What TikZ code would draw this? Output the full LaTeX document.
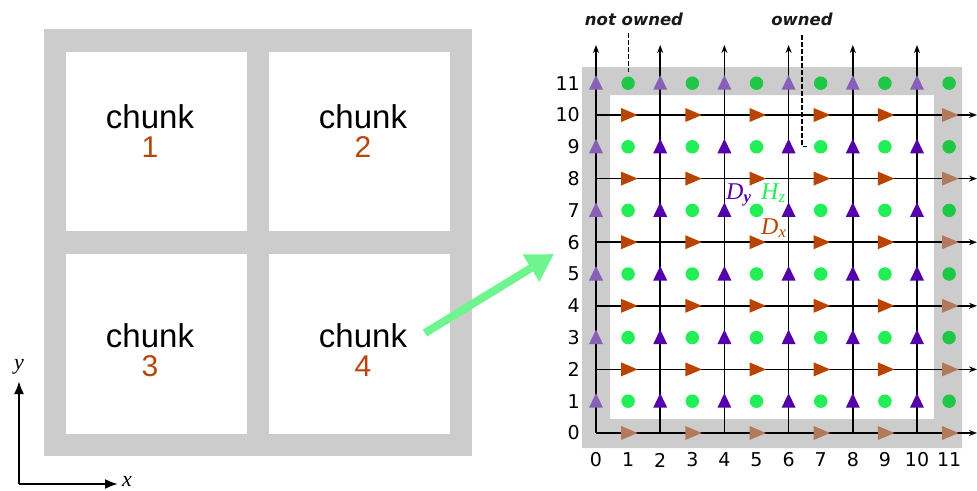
\documentclass[tikz,border=0pt]{standalone}
\usepackage{fontspec}
\setmainfont{Liberation Serif}
\setsansfont{Liberation Sans}
\newfontfamily\dejavu{DejaVu Sans}
\usetikzlibrary{arrows.meta,calc}
\definecolor{band}{HTML}{CCCCCC}
\definecolor{hz}{HTML}{22EE55}
\definecolor{hzf}{HTML}{1EC846}
\definecolor{dy}{HTML}{5500AA}
\definecolor{dyf}{HTML}{8860B8}
\definecolor{dx}{HTML}{B84400}
\definecolor{dxf}{HTML}{B4785A}
\definecolor{numc}{HTML}{B8460C}
\definecolor{garrow}{HTML}{6EF590}
\begin{document}
\begin{tikzpicture}[x=1pt,y=-1pt,
  chunktxt/.style={font=\sffamily\fontsize{33}{33}\selectfont,anchor=base,inner sep=0},
  chunknum/.style={font=\sffamily\fontsize{30}{30}\selectfont,text=numc,anchor=base,inner sep=0},
  axis/.style={line width=2.2pt,-{Latex[length=13pt,width=10pt]}},
  axlbl/.style={font=\itshape\fontsize{22}{22}\selectfont,anchor=base,inner sep=0},
  gline/.style={line width=1.5pt,-{Stealth[length=8pt,width=6pt]}},
  numlbl/.style={font=\dejavu\fontsize{19}{19}\selectfont,inner sep=0},
  ownlbl/.style={font=\dejavu\bfseries\itshape\fontsize{16.5}{16.5}\selectfont,anchor=base,inner sep=0,text=black!90},
  leader/.style={line width=1.2pt,dash pattern=on 4.5pt off 2.5pt},
  hzdot/.style={circle,fill=hz,inner sep=0,minimum size=13.5pt},
  hzdotf/.style={hzdot,fill=hzf},
  fldlbl/.style={font=\itshape\fontsize{24}{24}\selectfont,anchor=base west,inner sep=0},
  bigarrow/.style={line width=8pt,draw=garrow,-{Triangle[length=27pt,width=30pt]}},
  dyup/.pic={\fill (-7,6.5) -- (7,6.5) -- (0,-8) -- cycle;},
  dxright/.pic={\fill (-7,-7) -- (-7,7) -- (9.5,0) -- cycle;}
]
\useasboundingbox (0,0) rectangle (977,490);

% ---------------- left panel ----------------
\fill[band] (44,29) rectangle (472,456);
\foreach \a/\b/\c/\d in {66/52/247/231, 269/52/450/231, 66/254/247/434, 269/254/450/434}
  \fill[white] (\a,\b) rectangle (\c,\d);

\node[chunktxt] (c1) at (150,128) {chunk};
\node[chunknum] (n1) at (150,157) {1};
\node[chunktxt] (c2) at (363,128) {chunk};
\node[chunknum] (n2) at (363,157) {2};
\node[chunktxt] (c3) at (150,347) {chunk};
\node[chunknum] (n3) at (150,376) {3};
\node[chunktxt] (c4) at (363,347) {chunk};
\node[chunknum] (n4) at (363,376) {4};

% axes
\coordinate (o) at (19,484);
\coordinate (ya) at (19,381);
\coordinate (xa) at (118,484);
\draw[axis] (o) -- (ya);
\draw[axis] (o) -- (xa);
\node[axlbl] (ylbl) at (19,369) {y};
\node[axlbl] (xlbl) at (127,486) {x};

% green arrow
\coordinate (gas) at (425,333);
\coordinate (gae) at (554,254);
\draw[bigarrow] (gas) -- (gae);

% ---------------- right panel ----------------
\fill[band,even odd rule] (582,67) rectangle (962,448) (610,95) rectangle (934,419);

\foreach \i in {0,...,11}
  \foreach \j in {0,...,11}
    \coordinate (p-\i-\j) at ({596+32.1*\i},{433-31.8*\j});

\foreach \i in {0,2,...,10}{
  \coordinate (t-\i) at ({596+32.1*\i},45);
  \draw[gline] (p-\i-0) -- (t-\i);
}
\foreach \j in {0,2,...,10}{
  \coordinate (r-\j) at (977,{433-31.8*\j});
  \draw[gline] (p-0-\j) -- (r-\j);
}

% Hz dots
\foreach \i in {1,3,...,9}
  \foreach \j in {1,3,...,9}
    \node[hzdot] (h-\i-\j) at (p-\i-\j) {};
\foreach \j in {1,3,...,11}
  \node[hzdotf] (h-11-\j) at (p-11-\j) {};
\foreach \i in {1,3,...,9}
  \node[hzdotf] (h-\i-11) at (p-\i-11) {};

% Dy triangles
\foreach \i in {2,4,...,10}
  \foreach \j in {1,3,...,9}
    \pic[color=dy] at (p-\i-\j) {dyup};
\foreach \j in {1,3,...,11}
  \pic[color=dyf] at (p-0-\j) {dyup};
\foreach \i in {2,4,...,10}
  \pic[color=dyf] at (p-\i-11) {dyup};

% Dx triangles
\foreach \i in {1,3,...,9}
  \foreach \j in {2,4,...,10}
    \pic[color=dx] at (p-\i-\j) {dxright};
\foreach \j in {0,2,...,10}
  \pic[color=dxf] at (p-11-\j) {dxright};
\foreach \i in {1,3,...,9}
  \pic[color=dxf] at (p-\i-0) {dxright};

% axis numbers
\foreach \j in {0,...,11}
  \node[numlbl,anchor=east] (rl-\j) at ($(p-0-\j)+(-16,0)$) {\j};
\foreach \i in {0,...,11}
  \node[numlbl] (cl-\i) at ($(p-\i-0)+(0,27)$) {\i};

% field labels
\node[fldlbl,text=dy] (dylbl) at (726,199) {D\textsubscript{\textbf{y}}};
\node[fldlbl,text=hz] (hzlbl) at (761,199) {H\textsubscript{z}};
\node[fldlbl,text=dx] (dxlbl) at (761,234) {D\textsubscript{x}};

% owned / not owned
\node[ownlbl] (nolab) at (634,25) {not owned};
\node[ownlbl] (owlab) at (802,25) {owned};
\draw[leader,shorten <=8pt,shorten >=4.5pt] (nolab.south -| h-1-11) -- (h-1-11.north);
\draw[leader,shorten <=10pt,shorten >=6pt] (owlab.south) |- (h-7-9.west);
\end{tikzpicture}
\end{document}
